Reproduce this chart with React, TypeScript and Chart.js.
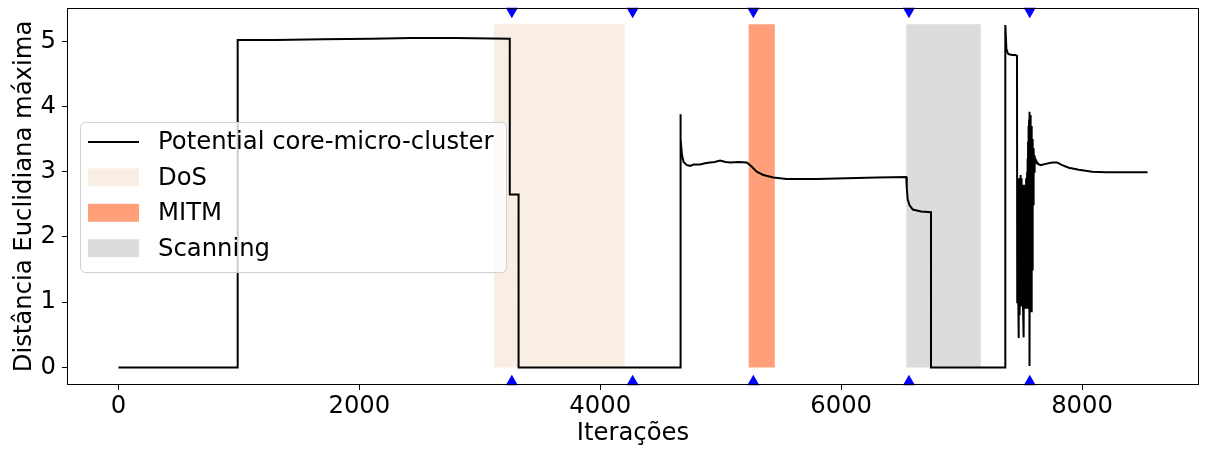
import { useEffect, useRef } from 'react';
import { Chart, registerables } from 'chart.js';

Chart.register(...registerables);

// ---- data: main series, split into readable segments ----
const iterationsA = [
  0, 990, 990, 1300, 1700, 2100, 2430, 2800, 3249, 3249, 3322, 3322,
  4664, 4664, 4670, 4678, 4692, 4720, 4747, 4775, 4830, 4870, 4912, 4950, 4995, 5040, 5078, 5147, 5216,
  5257, 5299, 5354, 5437, 5547, 5800, 6043, 6300, 6540, 6545, 6552, 6567, 6595, 6663, 6746, 6746,
  7361, 7361, 7364, 7364, 7372, 7385, 7394, 7420, 7445, 7460,
];
const distanceA = [
  0, 0, 5.02, 5.02, 5.03, 5.04, 5.05, 5.05, 5.04, 2.65, 2.65, 0,
  0, 3.88, 3.51, 3.26, 3.15, 3.10, 3.09, 3.11, 3.11, 3.13, 3.14, 3.15, 3.17, 3.15, 3.14, 3.15, 3.14,
  3.08, 3.00, 2.95, 2.91, 2.89, 2.89, 2.90, 2.91, 2.92, 2.75, 2.58, 2.49, 2.42, 2.39, 2.38, 0,
  0, 2.87, 2.87, 5.25, 4.88, 4.81, 4.80, 4.79, 4.79, 4.78,
];
const iterationsBurst = [
  7462, 7464, 7466, 7468, 7470, 7472, 7474, 7476, 7478, 7480, 7482, 7484, 7486, 7488, 7490, 7492,
  7494, 7496, 7498, 7500, 7502, 7504, 7506, 7508, 7510, 7512, 7514, 7516, 7518, 7520, 7522, 7524,
  7526, 7528, 7530, 7532, 7534, 7536, 7538, 7540, 7542, 7544, 7546, 7548, 7550, 7552, 7554, 7556,
  7558, 7560, 7562, 7564, 7566, 7568, 7570, 7572, 7574, 7576, 7578, 7580, 7582, 7584, 7586, 7588,
  7590, 7592, 7594, 7596, 7598, 7600, 7602, 7605, 7608, 7611, 7615,
];
const distanceBurst = [
  1.0, 2.9, 1.1, 2.8, 1.2, 2.7, 0.45, 2.5, 0.9, 2.3, 0.8, 2.9, 1.0, 2.95, 1.05, 2.8,
  0.95, 2.6, 1.3, 2.9, 1.0, 2.7, 1.1, 2.4, 0.9, 2.6, 0.6, 2.8, 0.46, 2.7, 1.0, 2.75,
  1.2, 2.6, 0.9, 2.8, 1.0, 2.9, 0.95, 2.7, 1.2, 3.0, 0.9, 3.2, 1.1, 3.46, 1.3, 3.7,
  0.9, 3.8, 1.1, 3.92, 0.02, 3.85, 0.9, 3.8, 1.0, 3.87, 0.86, 3.7, 1.2, 3.6, 1.5, 3.5,
  2.2, 3.4, 2.5, 3.36, 2.8, 3.3, 3.0, 3.25, 3.1, 3.2, 3.18,
];
const iterationsTail = [7635, 7656, 7697, 7753, 7794, 7835, 7890, 7973, 8084, 8194, 8360, 8544];
const distanceTail = [3.12, 3.10, 3.12, 3.14, 3.14, 3.10, 3.06, 3.03, 3.00, 2.99, 2.99, 2.99];

const seriesLabel = 'Potential core-micro-cluster';
const attackLabels = ['DoS', 'MITM', 'Scanning'];
const attackStart = [3115, 5230, 6540];
const attackEnd = [4204, 5450, 7160];
const attackTop = 5.26;
const markerIterations = [3266, 4269, 5271, 6563, 7566];
const markerTopValue = 5.46;
const markerBottomValue = -0.22;

const xTicks = [0, 2000, 4000, 6000, 8000];
const yTicks = [0, 1, 2, 3, 4, 5];
const xLimits = [-427, 8971];
const yLimits = [-0.27, 5.51];

const xTitle = 'Iterações';
const yTitle = 'Distância Euclidiana máxima';

// ---- styles ----
const attackColors = ['#F9EEE3', '#FFA07A', '#DCDCDC'];
const FONT = "'DejaVu Sans', sans-serif";

const framePlugin = {
  id: 'frame',
  afterDatasetsDraw(chart: any) {
    const { ctx, chartArea } = chart;
    const l = Math.round(chartArea.left) + 0.5;
    const r = Math.round(chartArea.right) - 0.5;
    const t = Math.round(chartArea.top) + 0.5;
    const b = Math.round(chartArea.bottom) - 0.5;
    ctx.save();
    ctx.strokeStyle = '#000';
    ctx.lineWidth = 1;
    ctx.strokeRect(l, t, r - l, b - t);
    ctx.restore();
  },
};

const boxLegendPlugin = {
  id: 'boxLegend',
  afterDraw(chart: any) {
    const { ctx } = chart;
    const items = chart.data.datasets.filter((d: any) => d.label);
    const bx = 80.5, by = 122.5, bw = 426, bh = 150;
    ctx.save();
    ctx.beginPath();
    ctx.roundRect(bx, by, bw, bh, 5);
    ctx.fillStyle = 'rgba(255,255,255,0.8)';
    ctx.fill();
    ctx.strokeStyle = '#d0d0d0';
    ctx.lineWidth = 1;
    ctx.stroke();
    ctx.font = `24.3px ${FONT}`;
    ctx.textBaseline = 'middle';
    ctx.textAlign = 'left';
    items.forEach((d: any, i: number) => {
      const cy = 142 + i * 35.4;
      if (d.fill) {
        ctx.fillStyle = d.backgroundColor;
        ctx.fillRect(88, cy - 9, 51, 18);
      } else {
        ctx.strokeStyle = d.borderColor;
        ctx.lineWidth = 1.8;
        ctx.beginPath();
        ctx.moveTo(88, cy);
        ctx.lineTo(139, cy);
        ctx.stroke();
      }
      ctx.fillStyle = '#000';
      ctx.fillText(d.label, 158, cy + 1);
    });
    ctx.restore();
  },
};

export default function App() {
  const canvasRef = useRef<HTMLCanvasElement | null>(null);

  useEffect(() => {
    const canvas = canvasRef.current;
    if (!canvas) return;

    const allIterations = [...iterationsA, ...iterationsBurst, ...iterationsTail];
    const allDistance = [...distanceA, ...distanceBurst, ...distanceTail];
    const lineData = allIterations.map((x, i) => ({ x, y: allDistance[i] }));

    const datasets: any[] = [
      {
        label: seriesLabel,
        data: lineData,
        borderColor: '#000000',
        borderWidth: 2,
        pointRadius: 0,
        fill: false,
        tension: 0,
        order: 1,
      },
      ...attackLabels.map((label, i) => ({
        label,
        data: [
          { x: attackStart[i], y: attackTop },
          { x: attackEnd[i], y: attackTop },
        ],
        borderWidth: 0,
        borderColor: 'rgba(0,0,0,0)',
        backgroundColor: attackColors[i],
        fill: 'origin',
        pointRadius: 0,
        order: 2,
      })),
      {
        label: '',
        data: markerIterations.map((x) => ({ x, y: markerTopValue })),
        showLine: false,
        pointStyle: 'triangle',
        pointRotation: 180,
        pointRadius: 7,
        pointBorderWidth: 0,
        pointBackgroundColor: '#0000FF',
        borderColor: '#0000FF',
        clip: false,
        order: 0,
      },
      {
        label: '',
        data: markerIterations.map((x) => ({ x, y: markerBottomValue })),
        showLine: false,
        pointStyle: 'triangle',
        pointRotation: 0,
        pointRadius: 7,
        pointBorderWidth: 0,
        pointBackgroundColor: '#0000FF',
        borderColor: '#0000FF',
        clip: false,
        order: 0,
      },
    ];

    const tickFont = { family: FONT, size: 24.3 };

    const chart = new Chart(canvas, {
      type: 'line',
      data: { datasets },
      plugins: [framePlugin, boxLegendPlugin],
      options: {
        responsive: false,
        animation: false,
        devicePixelRatio: 1,
        layout: { padding: { left: 0, right: 2, top: 8, bottom: 0 } },
        plugins: {
          legend: { display: false },
          tooltip: { enabled: false },
        },
        scales: {
          x: {
            type: 'linear',
            min: xLimits[0],
            max: xLimits[1],
            afterBuildTicks: (scale: any) => {
              scale.ticks = xTicks.map((v) => ({ value: v }));
            },
            afterFit: (scale: any) => {
              scale.height = 65;
              scale.paddingLeft = 0;
              scale.paddingRight = 0;
              scale.paddingTop = 0;
              scale.paddingBottom = 0;
            },
            ticks: {
              color: '#000',
              font: tickFont,
              padding: 2,
              maxRotation: 0,
              autoSkip: false,
              callback: (v: any) => String(v),
            },
            grid: {
              display: true,
              drawOnChartArea: false,
              drawTicks: true,
              tickLength: 5,
              tickColor: '#000',
              tickWidth: 1,
            },
            border: { display: false },
            title: {
              display: true,
              text: xTitle,
              color: '#000',
              font: tickFont,
              padding: { top: 0, bottom: 2 },
            },
          },
          y: {
            type: 'linear',
            min: yLimits[0],
            max: yLimits[1],
            afterBuildTicks: (scale: any) => {
              scale.ticks = yTicks.map((v) => ({ value: v }));
            },
            afterFit: (scale: any) => {
              scale.width = 67;
              scale.paddingLeft = 0;
              scale.paddingRight = 0;
              scale.paddingTop = 0;
              scale.paddingBottom = 0;
            },
            ticks: {
              color: '#000',
              font: tickFont,
              padding: 6,
              autoSkip: false,
              callback: (v: any) => String(v),
            },
            grid: {
              display: true,
              drawOnChartArea: false,
              drawTicks: true,
              tickLength: 5,
              tickColor: '#000',
              tickWidth: 1,
            },
            border: { display: false },
            title: {
              display: true,
              text: yTitle,
              color: '#000',
              font: tickFont,
              padding: { top: 10, bottom: 0 },
            },
          },
        },
      } as any,
    });

    return () => {
      chart.destroy();
    };
  }, []);

  return (
    <div style={{ position: 'absolute', left: 0, top: 0, width: 1206, height: 450, background: '#fff' }}>
      <canvas ref={canvasRef} width={1206} height={450} style={{ display: 'block' }} />
    </div>
  );
}
